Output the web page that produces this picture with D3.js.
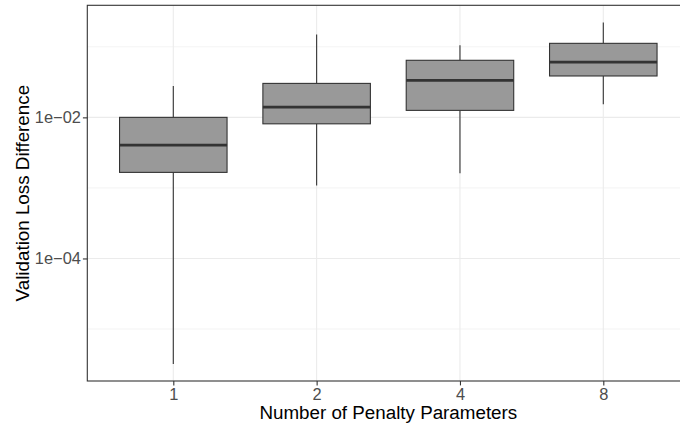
<!DOCTYPE html>
<html>
<head>
<meta charset="utf-8">
<script src="https://cdn.jsdelivr.net/npm/d3@7"></script>
<style>
  body { margin: 0; background: #fff; }
  svg { display: block; font-family: "Liberation Sans", Arial, sans-serif; }
</style>
</head>
<body>
<svg id="chart" width="680" height="427"></svg>
<script>
// Boxplot of validation loss difference by number of penalty parameters
const categories = ['1', '2', '4', '8'];
const whiskerLow = [3.2e-6, 0.00108, 0.00161, 0.0153];
const q1 = [0.00166, 0.0081, 0.01256, 0.0386];
const median = [0.00405, 0.0140, 0.0335, 0.0608];
const q3 = [0.0100, 0.0303, 0.0644, 0.112];
const whiskerHigh = [0.0278, 0.150, 0.105, 0.222];
const majorBreaks = [1e-2, 1e-4];
const minorBreaks = [1e-1, 1e-3, 1e-5];
const tickLabels = ['1e\u221202', '1e\u221204'];

(function() {
  const svg = d3.select('#chart'),
    margin = {top: 5.3, left: 87.3},
    width = 602,
    height = 375.7;
  const g = svg.append('g').attr('transform', `translate(${margin.left},${margin.top})`);

  const x = d3.scalePoint().domain(categories).range([0, width]).padding(0.6);
  const lo = Math.log10(d3.min(whiskerLow)), hi = Math.log10(d3.max(whiskerHigh));
  const pad = (hi - lo) * 0.05;
  const y = d3.scaleLog().domain([Math.pow(10, lo - pad), Math.pow(10, hi + pad)]).range([height, 0]);

  // grid
  g.selectAll('line.minor').data(minorBreaks).enter().append('line')
    .attr('x1', 0).attr('x2', width).attr('y1', d => y(d)).attr('y2', d => y(d))
    .attr('stroke', '#ebebeb').attr('stroke-width', 0.6);
  g.selectAll('line.major').data(majorBreaks).enter().append('line')
    .attr('x1', 0).attr('x2', width).attr('y1', d => y(d)).attr('y2', d => y(d))
    .attr('stroke', '#ebebeb').attr('stroke-width', 1.1);
  g.selectAll('line.vgrid').data(categories).enter().append('line')
    .attr('x1', d => x(d)).attr('x2', d => x(d)).attr('y1', 0).attr('y2', height)
    .attr('stroke', '#ebebeb').attr('stroke-width', 1.1);

  // boxes
  const bw = x.step() * 0.75;
  const boxes = categories.map((c, i) => ({c, lo: whiskerLow[i], q1: q1[i], med: median[i], q3: q3[i], hi: whiskerHigh[i]}));
  const bg = g.selectAll('g.box').data(boxes).enter().append('g').attr('class', 'box');
  bg.append('line').attr('x1', d => x(d.c)).attr('x2', d => x(d.c))
    .attr('y1', d => y(d.hi)).attr('y2', d => y(d.q3))
    .attr('stroke', '#333').attr('stroke-width', 1.1);
  bg.append('line').attr('x1', d => x(d.c)).attr('x2', d => x(d.c))
    .attr('y1', d => y(d.q1)).attr('y2', d => y(d.lo))
    .attr('stroke', '#333').attr('stroke-width', 1.1);
  bg.append('rect').attr('x', d => x(d.c) - bw / 2).attr('width', bw)
    .attr('y', d => y(d.q3)).attr('height', d => y(d.q1) - y(d.q3))
    .attr('fill', '#999999').attr('stroke', '#333').attr('stroke-width', 1.1);
  bg.append('line').attr('x1', d => x(d.c) - bw / 2).attr('x2', d => x(d.c) + bw / 2)
    .attr('y1', d => y(d.med)).attr('y2', d => y(d.med))
    .attr('stroke', '#333').attr('stroke-width', 2.8);

  // panel border
  g.append('rect').attr('width', width).attr('height', height)
    .attr('fill', 'none').attr('stroke', '#333').attr('stroke-width', 1.1);

  // axes
  const yAxis = g.append('g').call(d3.axisLeft(y).tickValues(majorBreaks)
    .tickFormat((d, i) => tickLabels[i]).tickSize(4.4).tickPadding(2));
  const xAxis = g.append('g').attr('transform', `translate(0,${height})`)
    .call(d3.axisBottom(x).tickSize(4.4).tickPadding(2.6));
  [yAxis, xAxis].forEach(a => {
    a.select('.domain').remove();
    a.selectAll('line').attr('stroke', '#333').attr('stroke-width', 1.1);
    a.selectAll('text').attr('fill', '#4d4d4d').attr('font-size', '16.4px')
      .attr('font-family', '"Liberation Sans", Arial, sans-serif');
  });

  // titles
  svg.append('text').attr('x', margin.left + width / 2).attr('y', 419)
    .attr('text-anchor', 'middle').attr('font-size', '18.8px').attr('fill', '#000')
    .text('Number of Penalty Parameters');
  svg.append('text').attr('transform', `translate(29,${margin.top + height / 2}) rotate(-90)`)
    .attr('text-anchor', 'middle').attr('font-size', '18.8px').attr('fill', '#000')
    .text('Validation Loss Difference');
})();
</script>
</body>
</html>
